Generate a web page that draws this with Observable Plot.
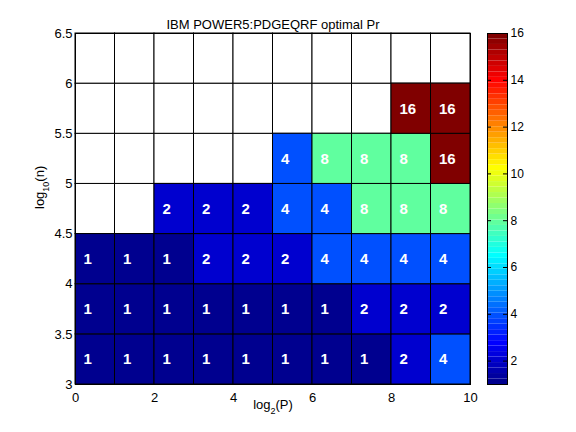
<!DOCTYPE html>
<html>
<head>
<meta charset="utf-8">
<script src="https://cdn.jsdelivr.net/npm/d3@7"></script>
<script src="https://cdn.jsdelivr.net/npm/@observablehq/plot@0.6"></script>
<style>
  html, body { margin: 0; padding: 0; background: white; }
  #wrap { position: relative; width: 576px; height: 432px; }
  #wrap svg { position: absolute; left: 0; top: 0; }
</style>
</head>
<body>
<div id="wrap"></div>
<script>
// ---- data ----
const titleText = "IBM POWER5:PDGEQRF optimal Pr";
const log2P = [0, 1, 2, 3, 4, 5, 6, 7, 8, 9];          // left edge of each column
const log10n = [3, 3.5, 4, 4.5, 5, 5.5, 6];            // bottom edge of each row
const prRow3_0 = [1, 1, 1, 1, 1, 1, 1, 1, 2, 4];
const prRow3_5 = [1, 1, 1, 1, 1, 1, 1, 2, 2, 2];
const prRow4_0 = [1, 1, 1, 2, 2, 2, 4, 4, 4, 4];
const prRow4_5 = [null, null, 2, 2, 2, 4, 4, 8, 8, 8];
const prRow5_0 = [null, null, null, null, null, 4, 8, 8, 8, 16];
const prRow5_5 = [null, null, null, null, null, null, null, null, 16, 16];
const prRow6_0 = [null, null, null, null, null, null, null, null, null, null];
const xTicks = [0, 2, 4, 6, 8, 10];
const yTicks = [3, 3.5, 4, 4.5, 5, 5.5, 6, 6.5];
const cbTicks = [2, 4, 6, 8, 10, 12, 14, 16];
const colorDomain = [1, 16];

const rows = [prRow3_0, prRow3_5, prRow4_0, prRow4_5, prRow5_0, prRow5_5, prRow6_0];
const cells = [];
rows.forEach((row, j) => row.forEach((v, i) => {
  cells.push({x1: log2P[i], x2: log2P[i] + 1, y1: log10n[j], y2: log10n[j] + 0.5, v});
}));

// MATLAB jet(64) colormap
function jet64(t) {
  const n = 64;
  let idx = Math.min(n, Math.floor(t * n) + 1); // 1-based
  if (idx < 1) idx = 1;
  const u = [];
  for (let k = 1; k <= 16; k++) u.push(k / 16);
  for (let k = 0; k < 15; k++) u.push(1);
  for (let k = 16; k >= 1; k--) u.push(k / 16);
  const U = p => (p >= 1 && p <= u.length) ? u[p - 1] : 0;
  const r = (idx >= 25) ? U(idx - 24) : 0;
  const g = (idx >= 9 && idx <= 55) ? U(idx - 8) : 0;
  const b = (idx <= 39) ? U(idx + 8) : 0;
  return `rgb(${Math.round(r * 255)},${Math.round(g * 255)},${Math.round(b * 255)})`;
}

const font = "'Liberation Sans', Arial, Helvetica, sans-serif";
const colorScale = {type: "linear", domain: colorDomain, interpolate: jet64};

const main = Plot.plot({
  width: 576,
  height: 432,
  marginLeft: 75,
  marginRight: 106,
  marginTop: 33,
  marginBottom: 48,
  style: {fontFamily: font, fontSize: "13px", background: "white", color: "black"},
  x: {domain: [0, 10]},
  y: {domain: [3, 6.5]},
  color: colorScale,
  marks: [
    Plot.rect(cells.filter(d => d.v == null), {x1: "x1", x2: "x2", y1: "y1", y2: "y2", fill: "white", stroke: "black", strokeWidth: 1}),
    Plot.rect(cells.filter(d => d.v != null), {x1: "x1", x2: "x2", y1: "y1", y2: "y2", fill: "v", stroke: "black", strokeWidth: 1}),
    Plot.text(cells.filter(d => d.v != null), {
      x: d => d.x1 + 0.2, y: d => (d.y1 + d.y2) / 2, text: d => String(d.v),
      textAnchor: "start", fill: "white", fontWeight: "bold", fontSize: 15
    }),
    Plot.frame({stroke: "black"}),
    Plot.axisX(xTicks, {tickSize: 0, tickPadding: 8, label: null, fontSize: 13}),
    Plot.axisY(yTicks, {tickSize: 0, tickPadding: 3, label: null, fontSize: 13, tickFormat: d => String(d)}),
    Plot.text([titleText], {frameAnchor: "top", dy: -14, fontSize: 13}),
    Plot.text(["log2(P)"], {frameAnchor: "bottom", dy: 24, fontSize: 13, className: "xlab"}),
    Plot.text(["log10(n)"], {frameAnchor: "left", dx: -36, rotate: -90, fontSize: 13, className: "ylab"})
  ]
});

// colorbar
const nb = 64;
const bands = d3.range(nb).map(i => ({
  y1: colorDomain[0] + i * (colorDomain[1] - colorDomain[0]) / nb,
  y2: colorDomain[0] + (i + 1) * (colorDomain[1] - colorDomain[0]) / nb,
  v: colorDomain[0] + (i + 0.5) * (colorDomain[1] - colorDomain[0]) / nb
}));

const cbar = Plot.plot({
  width: 576,
  height: 432,
  marginLeft: 487,
  marginRight: 69,
  marginTop: 33,
  marginBottom: 48,
  style: {fontFamily: font, fontSize: "12px", background: "none", color: "black"},
  x: {domain: [0, 1], axis: null},
  y: {domain: colorDomain, axis: null},
  color: colorScale,
  marks: [
    Plot.rect(bands, {x1: 0, x2: 1, y1: "y1", y2: "y2", fill: "v"}),
    Plot.ruleY(cbTicks, {x1: 0, x2: 0.2, stroke: "black"}),
    Plot.ruleY(cbTicks, {x1: 0.8, x2: 1, stroke: "black"}),
    Plot.frame({stroke: "black"}),
    Plot.axisY(cbTicks, {anchor: "right", tickSize: 0, tickPadding: 3, label: null, fontSize: 12})
  ]
});

const wrap = document.getElementById("wrap");
wrap.appendChild(main);
wrap.appendChild(cbar);

// subscripts in axis labels
function subscriptLabel(sel, base, sub, rest) {
  d3.select(main).selectAll(sel + " text").each(function() {
    const t = d3.select(this);
    t.text(null);
    t.append("tspan").text(base);
    t.append("tspan").attr("baseline-shift", "sub").attr("font-size", "9px").text(sub);
    t.append("tspan").text(rest);
  });
}
subscriptLabel(".xlab", "log", "2", "(P)");
subscriptLabel(".ylab", "log", "10", "(n)");
</script>
</body>
</html>
